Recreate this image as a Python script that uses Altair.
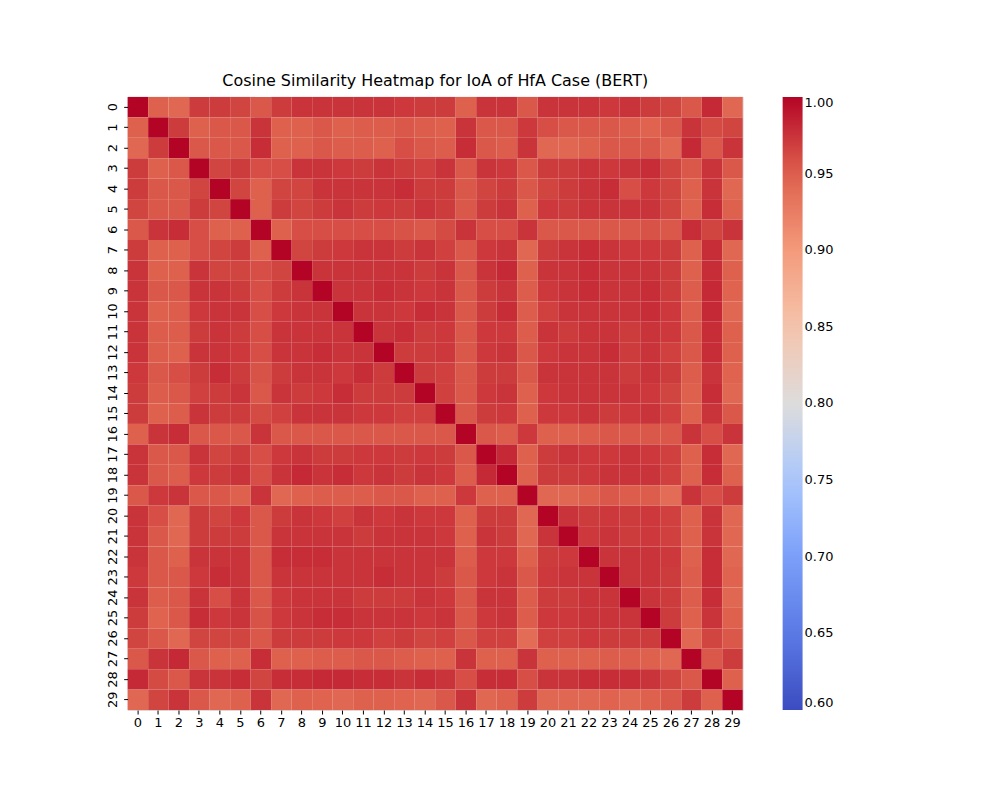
import altair as alt
import pandas as pd

# lower triangle of the similarity matrix, row i holds columns 0..i-1
lower = [
    [],
    [.95],
    [.945, .97],
    [.97, .95, .955],
    [.97, .955, .955, .965],
    [.965, .955, .955, .97, .965],
    [.955, .975, .978, .96, .95, .95],
    [.97, .95, .95, .96, .965, .97, .95],
    [.975, .95, .95, .975, .965, .965, .96, .965],
    [.975, .955, .955, .975, .975, .97, .96, .97, .975],
    [.975, .95, .952, .972, .975, .975, .96, .972, .975, .975],
    [.975, .952, .952, .97, .975, .97, .96, .975, .975, .975, .975],
    [.975, .952, .95, .975, .975, .972, .96, .975, .975, .978, .975, .975],
    [.972, .955, .96, .97, .978, .97, .958, .97, .975, .975, .972, .978, .97],
    [.97, .952, .955, .968, .97, .975, .955, .975, .97, .972, .978, .97, .97, .97],
    [.97, .95, .952, .975, .97, .97, .962, .968, .975, .975, .975, .972, .972, .968, .968],
    [.95, .975, .978, .955, .955, .955, .975, .955, .955, .955, .955, .955, .955, .955, .955, .955],
    [.975, .955, .955, .975, .965, .97, .96, .972, .975, .97, .97, .972, .972, .97, .972, .97, .955],
    [.975, .955, .952, .972, .97, .975, .96, .975, .98, .975, .978, .972, .975, .97, .975, .972, .952, .98],
    [.955, .972, .975, .955, .955, .95, .975, .945, .95, .952, .952, .952, .955, .955, .95, .95, .972, .95, .95],
    [.975, .96, .945, .97, .965, .972, .955, .97, .975, .972, .968, .975, .972, .975, .972, .972, .95, .97, .97, .945],
    [.975, .955, .945, .97, .97, .97, .955, .975, .975, .975, .975, .97, .975, .975, .975, .972, .95, .975, .97, .945, .975],
    [.975, .955, .95, .975, .975, .975, .955, .978, .978, .978, .975, .975, .975, .975, .975, .975, .952, .972, .972, .95, .97, .972],
    [.972, .955, .955, .972, .978, .975, .955, .975, .975, .975, .975, .975, .978, .975, .975, .97, .955, .972, .975, .955, .972, .975, .975],
    [.975, .952, .955, .975, .96, .975, .955, .972, .975, .975, .975, .97, .97, .97, .975, .972, .955, .975, .975, .952, .97, .97, .975, .975],
    [.97, .948, .955, .978, .972, .975, .958, .972, .975, .978, .978, .975, .975, .975, .972, .975, .955, .972, .975, .952, .972, .972, .975, .975, .975],
    [.965, .955, .945, .965, .965, .965, .955, .97, .97, .97, .972, .972, .968, .97, .965, .968, .955, .968, .968, .94, .968, .968, .972, .97, .97, .97],
    [.955, .975, .98, .955, .95, .95, .978, .95, .95, .952, .952, .955, .955, .952, .95, .95, .975, .95, .95, .975, .95, .95, .95, .952, .952, .95, .945],
    [.98, .962, .955, .975, .975, .978, .965, .978, .978, .98, .98, .978, .978, .975, .978, .975, .96, .978, .978, .96, .975, .975, .978, .978, .978, .975, .965, .955],
    [.945, .965, .975, .955, .945, .95, .975, .945, .95, .948, .945, .95, .95, .948, .945, .955, .975, .945, .95, .97, .945, .945, .945, .948, .945, .95, .955, .97, .95],
]

labels = [str(i) for i in range(30)]
scale_domain = [0.6, 0.65, 0.7, 0.75, 0.8, 0.85, 0.9, 0.95, 1.0]
scale_colors = ['#3b4cc0', '#5b7ae5', '#7b9ff9', '#aac7fd', '#dddcdc',
                '#f5c4ac', '#f49a7b', '#de614d', '#b40426']

rows = []
for i in range(30):
    for j in range(30):
        if i == j:
            v = 1.0
        elif j < i:
            v = lower[i][j]
        else:
            v = lower[j][i]
        rows.append({'row': labels[i], 'col': labels[j], 'value': v})
df = pd.DataFrame(rows)

chart = alt.Chart(df).mark_rect().encode(
    x=alt.X('col:O', sort=labels, title=None,
            axis=alt.Axis(labelAngle=0, labelFontSize=13, domain=False, tickSize=4)),
    y=alt.Y('row:O', sort=labels, title=None,
            axis=alt.Axis(labelAngle=-90, labelFontSize=13, domain=False, tickSize=4,
                          labelAlign='center', labelBaseline='bottom', labelPadding=4)),
    color=alt.Color('value:Q',
                    scale=alt.Scale(domain=scale_domain, range=scale_colors, interpolate='rgb'),
                    legend=alt.Legend(title=None, orient='none', legendX=657, legendY=0,
                                      gradientLength=615, gradientThickness=20,
                                      values=[0.6, 0.65, 0.7, 0.75, 0.8, 0.85, 0.9, 0.95, 1.0],
                                      format='.2f', labelFontSize=13, tickCount=9)),
).properties(
    width=617, height=615,
    title=alt.Title('Cosine Similarity Heatmap for IoA of HfA Case (BERT)',
                    fontSize=16, fontWeight='normal', offset=8),
    autosize='none',
    padding={'left': 120, 'top': 88, 'right': 250, 'bottom': 80},
).configure_view(stroke=None).configure(font='DejaVu Sans').configure_axis(labelColor='black', tickColor='black')

chart.save("out.html", embed_options={"renderer": "svg", "actions": False})
